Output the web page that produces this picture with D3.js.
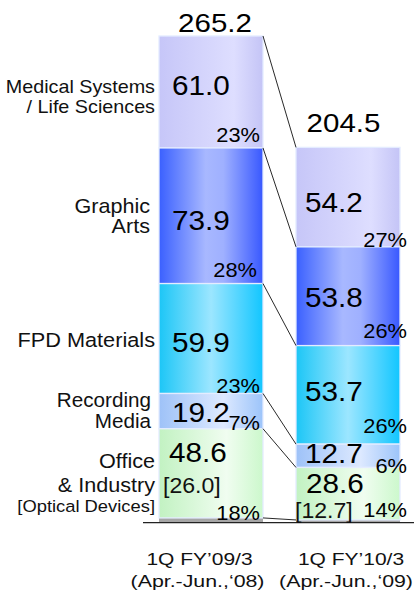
<!DOCTYPE html>
<html>
<head>
<meta charset="utf-8">
<script src="https://cdn.jsdelivr.net/npm/d3@7"></script>
<style>
  html, body { margin: 0; padding: 0; background: #fff; }
  svg { display: block; font-family: "Liberation Sans", Arial, sans-serif; }
</style>
</head>
<body>
<script>
// ---------------- DATA ----------------
const categories = ["Medical Systems / Life Sciences", "Graphic Arts", "FPD Materials", "Recording Media", "Office & Industry"];
const categoryLabelLines = [
  ["Medical Systems", "/ Life Sciences"],
  ["Graphic", "Arts"],
  ["FPD Materials"],
  ["Recording", "Media"],
  ["Office", "& Industry", "[Optical Devices]"]
];
const periods = ["1Q FY’09/3", "1Q FY’10/3"];
const periodSubs = ["(Apr.-Jun.,‘08)", "(Apr.-Jun.,‘09)"];
const sales0809 = [61.0, 73.9, 59.9, 19.2, 48.6];
const sales0910 = [54.2, 53.8, 53.7, 12.7, 28.6];
const otherSales = [2.6, 1.5];
const totals = [265.2, 204.5];
const share0809 = ["23%", "28%", "23%", "7%", "18%"];
const share0910 = ["27%", "26%", "26%", "6%", "14%"];
const opticalDevices = ["[26.0]", "[12.7]"];

// ---------------- LAYOUT / STYLE ----------------
const W = 414, H = 591;
const gradients = [
  [[0, "#c6c6f8"], [0.72, "#dedeff"], [1, "#c4c4f6"]],
  [[0, "#3a60ff"], [0.45, "#a8b8ff"], [0.62, "#9fb0ff"], [1, "#3858ff"]],
  [[0, "#1cc6f6"], [0.5, "#9ce6ff"], [1, "#12c6ff"]],
  [[0, "#9ec2f8"], [0.62, "#dde9ff"], [1, "#9cc4fa"]],
  [[0, "#c2f2c2"], [0.65, "#f0fdf0"], [1, "#ccf8cc"]]
];
const otherColor = "#a6a6a6";

const svg = d3.select("body").append("svg").attr("width", W).attr("height", H);
const defs = svg.append("defs");
gradients.forEach((stops, i) => {
  const g = defs.append("linearGradient").attr("id", "grad" + i)
    .attr("x1", 0).attr("x2", 1).attr("y1", 0).attr("y2", 0);
  stops.forEach(s => g.append("stop").attr("offset", s[0]).attr("stop-color", s[1]));
});

const x = d3.scaleBand().domain(periods).range([159, 400]).paddingInner(33 / 137).paddingOuter(0);
const y = d3.scaleLinear().domain([0, d3.max(totals)]).range([522.7, 36]);
const bw = x.bandwidth();

// build stacks: bottom-up: other, office, recording, FPD, graphic, medical
const series = [sales0809, sales0910];
const bars = periods.map((p, b) => {
  let cum = otherSales[b];
  const segs = [];
  for (let i = categories.length - 1; i >= 0; i--) {
    segs[i] = { cat: i, y0: cum, y1: cum + series[b][i], v: series[b][i] };
    cum += series[b][i];
  }
  return { period: p, b, segs, other: { y0: 0, y1: otherSales[b] } };
});

function stretchText(sel, tx, ty, sx) {
  return sel.attr("transform", `translate(${tx},${ty}) scale(${sx},1)`);
}

// bars
bars.forEach(bar => {
  const g = svg.append("g");
  const x0 = x(bar.period);
  g.append("rect").attr("x", x0).attr("width", bw)
    .attr("y", y(bar.other.y1)).attr("height", y(bar.other.y0) - y(bar.other.y1))
    .attr("fill", otherColor);
  g.selectAll("rect.seg").data(bar.segs).join("rect").attr("class", "seg")
    .attr("x", x0).attr("width", bw)
    .attr("y", d => y(d.y1)).attr("height", d => y(d.y0) - y(d.y1))
    .attr("fill", d => `url(#grad${d.cat})`)
    .attr("stroke", "#e4ecff").attr("stroke-width", 1.3);
});

// connector lines
const bounds = bars.map(bar => [bar.other.y1].concat(bar.segs.slice().reverse().map(s => s.y1)));
bounds[0].forEach((v, k) => {
  svg.append("line")
    .attr("x1", x(periods[0]) + bw).attr("y1", y(v))
    .attr("x2", x(periods[1])).attr("y2", y(bounds[1][k]))
    .attr("stroke", "#111").attr("stroke-width", 0.9);
});

// baseline
svg.append("line").attr("x1", 143).attr("x2", W).attr("y1", y(0)).attr("y2", y(0))
  .attr("stroke", "#222").attr("stroke-width", 1.2);

// value labels
const valueDx = [13, 9];
const valueDy = [[3, 14, 13.5, 11], [15, 11, 6, 7]];
const shares = [share0809, share0910];
const shareDx = [[-3, -6, -3, -3, -3], [7, 7, 7, 7, 7]];
const shareDy = [[-6, -7, -1, 1, 2], [0, -8, -11, 6, -3]];
bars.forEach(bar => {
  const b = bar.b, x0 = x(bar.period);
  bar.segs.forEach((s, i) => {
    const top = y(s.y1), bot = y(s.y0), mid = (top + bot) / 2;
    if (i < 4) {
      stretchText(svg.append("text"), x0 + valueDx[b], mid + valueDy[b][i], 1.1)
        .attr("font-size", 27).attr("fill", "#000").text(s.v.toFixed(1));
    } else {
      const br = Math.min(top + 64, bot - 2);
      stretchText(svg.append("text"), x0 + (b === 0 ? 4 : -1), br, 1.05)
        .attr("font-size", 22).attr("fill", "#111").text(opticalDevices[b]);
      stretchText(svg.append("text"), x0 + 10, br - (b === 0 ? 31 : 25), 1.1)
        .attr("font-size", 27).attr("fill", "#000").text(s.v.toFixed(1));
    }
    stretchText(svg.append("text"), x0 + bw + shareDx[b][i], bot + shareDy[b][i], 1.12)
      .attr("font-size", 19.5).attr("text-anchor", "end").attr("fill", "#000").text(shares[b][i]);
  });
  // totals
  stretchText(svg.append("text"), x0 + bw / 2 + (b === 0 ? 4 : -4.5), y(totals[b]) + (b === 0 ? -4 : -15), 1.18)
    .attr("font-size", 25).attr("text-anchor", "middle").attr("fill", "#000").text(totals[b].toFixed(1));
  // period labels
  const cx = x0 + bw / 2 + (b === 0 ? -11.5 : 3);
  stretchText(svg.append("text"), cx, 565, 1.25)
    .attr("font-size", 16.8).attr("text-anchor", "middle").attr("fill", "#111").text(periods[b]);
  stretchText(svg.append("text"), cx + (b === 0 ? -2 : -5), 587, 1.27)
    .attr("font-size", 16.8).attr("text-anchor", "middle").attr("fill", "#111").text(periodSubs[b]);
});

// category labels (left of first bar)
const labelOff = [1, -3, 8.5, -4, -5];
const labelGaps = [[20], [20], [], [21], [24, 20]];
const labelSizes = [[19, 19], [20, 20], [20.5], [19.5, 19.5], [20, 20, 17]];
const labelStretch = [1.04, 1.08, 1.06, 1.06, 1.08];
const labelRight = [155, 150, 155, 151, 155];
bars[0].segs.forEach((s, i) => {
  const mid = (y(s.y1) + y(s.y0)) / 2;
  let yy = mid + labelOff[i];
  categoryLabelLines[i].forEach((line, j) => {
    if (j > 0) yy += labelGaps[i][j - 1];
    stretchText(svg.append("text"), labelRight[i], yy, labelStretch[i])
      .attr("font-size", labelSizes[i][j]).attr("text-anchor", "end").attr("fill", "#111").text(line);
  });
});
</script>
</body>
</html>
